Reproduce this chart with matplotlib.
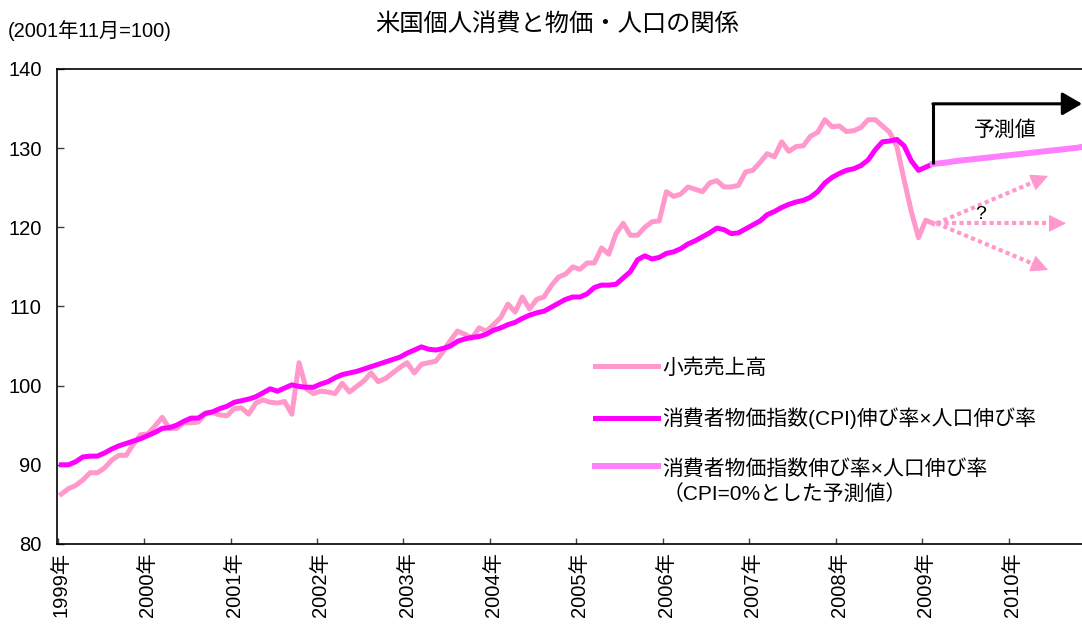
import matplotlib
matplotlib.use('Agg')
import matplotlib.pyplot as plt
import numpy as np
from matplotlib.legend_handler import HandlerLine2D

plt.rcParams['font.family'] = ['Liberation Sans', 'Noto Sans CJK JP']

# monthly, Jan 1999 -> Feb 2009 (2001年11月=100)
retail = [86.3, 87.0, 87.4, 88.1, 89.0, 89.0, 89.6, 90.6, 91.2, 91.2, 92.6, 93.8,
          93.9, 94.9, 96.0, 94.6, 94.6, 95.3, 95.3, 95.4, 96.5, 96.6, 96.3, 96.2,
          97.1, 97.2, 96.4, 97.8, 98.2, 97.9, 97.8, 98.0, 96.4, 102.9, 99.6, 99.0,
          99.3, 99.2, 99.0, 100.3, 99.2, 99.9, 100.6, 101.6, 100.5, 100.9, 101.6, 102.3,
          102.9, 101.6, 102.7, 102.9, 103.1, 104.3, 105.7, 106.9, 106.5, 106.0, 107.3, 106.9,
          107.7, 108.6, 110.3, 109.3, 111.2, 109.7, 110.9, 111.2, 112.6, 113.7, 114.1, 115.0,
          114.7, 115.5, 115.5, 117.4, 116.6, 119.2, 120.5, 119.0, 119.0, 120.0, 120.7, 120.8,
          124.5, 123.9, 124.2, 125.1, 124.8, 124.5, 125.6, 125.9, 125.1, 125.1, 125.3, 127.0,
          127.2, 128.2, 129.3, 128.9, 130.8, 129.6, 130.2, 130.3, 131.5, 132.0, 133.6, 132.7,
          132.8, 132.1, 132.2, 132.6, 133.6, 133.6, 132.8, 132.0, 130.2, 126.0, 122.0, 118.7,
          120.9, 120.5]

cpi_pop = [90.0, 90.0, 90.4, 91.0, 91.1, 91.1, 91.5, 92.0, 92.4, 92.7, 93.0, 93.3,
           93.7, 94.1, 94.6, 94.7, 95.0, 95.5, 95.9, 95.9, 96.5, 96.7, 97.1, 97.4,
           97.9, 98.1, 98.3, 98.6, 99.1, 99.6, 99.3, 99.7, 100.1, 99.9, 99.8, 99.8,
           100.2, 100.5, 101.0, 101.4, 101.6, 101.8, 102.1, 102.4, 102.7, 103.0, 103.3, 103.6,
           104.1, 104.5, 104.9, 104.6, 104.5, 104.7, 105.0, 105.6, 105.9, 106.1, 106.2, 106.5,
           107.0, 107.3, 107.7, 108.0, 108.5, 108.9, 109.2, 109.4, 109.9, 110.4, 110.9, 111.2,
           111.2, 111.6, 112.4, 112.7, 112.7, 112.8, 113.6, 114.4, 115.9, 116.4, 116.0, 116.2,
           116.7, 116.9, 117.3, 117.9, 118.3, 118.8, 119.3, 119.9, 119.7, 119.2, 119.3, 119.8,
           120.3, 120.8, 121.6, 122.0, 122.5, 122.9, 123.2, 123.4, 123.8, 124.5, 125.6, 126.3,
           126.8, 127.2, 127.4, 127.8, 128.5, 129.8, 130.8, 130.9, 131.1, 130.3, 128.4, 127.2,
           127.6, 128.0]

# CPI=0% forecast, Feb 2009 -> Dec 2010
forecast = [128.0, 128.1, 128.2, 128.35, 128.45, 128.55, 128.65, 128.75, 128.85, 128.95,
            129.05, 129.15, 129.25, 129.35, 129.45, 129.55, 129.65, 129.75, 129.85, 129.95,
            130.05, 130.2, 130.3]

# retail scenarios after Feb 2009 (up / flat / down)
scenario = [126.5, 120.5, 114.6]

years = list(range(1999, 2011))
year_labels = [f'{y}年' for y in years]

labels = ['小売売上高',
          '消費者物価指数(CPI)伸び率×人口伸び率',
          '消費者物価指数伸び率×人口伸び率\n（CPI=0%とした予測値）']

months = np.arange(len(retail))            # 0 = Jan 1999
fc_months = np.arange(len(forecast)) + len(retail) - 1


class RaisedLine(HandlerLine2D):
    # put the legend sample next to the first text line
    def __init__(self, dy, **kw):
        super().__init__(**kw)
        self.dy = dy

    def create_artists(self, legend, orig_handle, xdescent, ydescent,
                       width, height, fontsize, trans):
        arts = super().create_artists(legend, orig_handle, xdescent, ydescent,
                                      width, height, fontsize, trans)
        for a in arts:
            a.set_ydata(np.asarray(a.get_ydata()) + self.dy * fontsize)
        return arts


fig = plt.figure(figsize=(10.82, 6.26), dpi=100)
ax = fig.add_axes([0.0527, 0.131, 0.9473, 0.7588])

l1, = ax.plot(months, retail, color='#FF99CC', lw=3.6, label=labels[0])
l2, = ax.plot(months, cpi_pop, color='#FF00FF', lw=3.6, label=labels[1])
l3, = ax.plot(fc_months, forecast, color='#FF80FF', lw=4.3, label=labels[2])

# dotted scenario arrows: dotted shaft + solid head
x0, y0 = months[-1] + 0.5, retail[-1]
for dm, v in zip([15.5, 18, 15.5], scenario):
    x1 = x0 + dm
    ax.plot([x0, x1 - 1.2], [y0, y0 + (v - y0) * (dm - 1.2) / dm],
            color='#FF99CC', lw=3, linestyle=(0, (1, 0.8)), solid_capstyle='butt',
            dash_capstyle='butt')
    ax.annotate('', xy=(x1, v), xytext=(x1 - 2.2, y0 + (v - y0) * (dm - 2.2) / dm),
                arrowprops=dict(arrowstyle='-|>,head_length=0.6,head_width=0.3',
                                mutation_scale=18, color='#FF99CC', lw=1,
                                shrinkA=0, shrinkB=0))
ax.text(127.6, 121.6, '?', ha='center', va='center', fontsize=14)

# 予測値 bracket
x_fc = fc_months[0]
ax.plot([x_fc, x_fc], [forecast[0], 135.6], color='black', lw=2.2,
        solid_capstyle='butt')
ax.annotate('', xy=(141.7, 135.6), xytext=(x_fc, 135.6), annotation_clip=False,
            arrowprops=dict(arrowstyle='-|>,head_length=0.6,head_width=0.35',
                            mutation_scale=20, color='black', lw=2.2,
                            shrinkA=0, shrinkB=0, clip_on=False))
ax.text(131.1, 132.3, '予測値', ha='center', va='center', fontsize=15)

ax.set_xlim(-0.6, 141.7)
ax.set_ylim(80, 140)
ax.set_yticks(range(80, 141, 10))
ax.tick_params(axis='y', direction='in', length=5, width=1, pad=11,
               labelsize=14.5, color='#404040')
ax.set_xticks(np.arange(len(years)) * 12 - 0.5)
ax.set_xticks(np.arange(len(years)) * 12, labels=year_labels, minor=True)
ax.tick_params(axis='x', which='major', direction='in', length=4, width=1,
               labelbottom=False, color='#404040')
ax.tick_params(axis='x', which='minor', length=0, pad=6, labelsize=14.5,
               labelrotation=90)

ax.spines['right'].set_visible(False)
for s in ['top', 'left', 'bottom']:
    ax.spines[s].set_linewidth(1.2)
    ax.spines[s].set_color('black')

leg = ax.legend(handles=[l1, l2, l3], loc='upper left',
                bbox_to_anchor=(595 / 1082, 1 - 358 / 626), bbox_transform=fig.transFigure,
                frameon=False, fontsize=15, handlelength=3.0, handletextpad=0.25,
                labelspacing=1.42, borderpad=0, borderaxespad=0,
                handler_map={l3: RaisedLine(0.72)})
for t in leg.get_texts():
    t.set_linespacing(1.35)

fig.text(557 / 1082, 1 - 25 / 626, '米国個人消費と物価・人口の関係',
         ha='center', va='center', fontsize=17.5)
fig.text(8 / 1082, 1 - 31 / 626, '(2001年11月=100)',
         ha='left', va='center', fontsize=14.5)

fig.savefig('out.png', dpi=100)
